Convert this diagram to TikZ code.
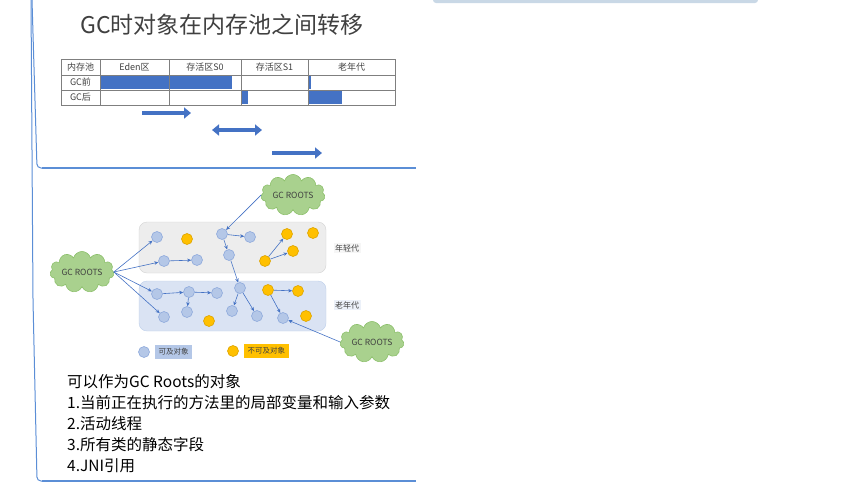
\documentclass[tikz,border=0pt]{standalone}
\usepackage{fontspec}
\usepackage{xcolor}
\usepackage{tikz}
\usetikzlibrary{shapes.geometric,shapes.symbols,arrows.meta,positioning}
\newfontfamily\cjk{Noto Sans CJK SC}
\definecolor{FrameBlue}{HTML}{5B8ED6}
\definecolor{CardEdge}{HTML}{C9D8E6}
\definecolor{BarBlue}{HTML}{4472C4}
\definecolor{TitleGray}{HTML}{404040}
\definecolor{GridGray}{HTML}{7F7F7F}
\definecolor{YoungFill}{HTML}{EDEDED}
\definecolor{YoungDraw}{HTML}{D3D3D3}
\definecolor{OldFill}{HTML}{DAE3F3}
\definecolor{OldDraw}{HTML}{BDCFEA}
\definecolor{ObjBlue}{HTML}{B4C7E7}
\definecolor{ObjBlueDraw}{HTML}{8FAADC}
\definecolor{ObjGold}{HTML}{FFC000}
\definecolor{ObjGoldDraw}{HTML}{DDA400}
\definecolor{CloudGreen}{HTML}{A9D18E}
\definecolor{CloudDraw}{HTML}{8DC06C}
\tikzset{
  % Card frame
  frame/.style={draw=FrameBlue,line width=1pt},
  % Table text
  TC/.style={font=\cjk\fontsize{9}{10}\selectfont,text=TitleGray,inner sep=0pt},
  % Thick transfer arrows
  bigarr/.style={-{Triangle[length=7pt,width=11pt]},draw=BarBlue,line width=4.5pt},
  dblarr/.style={{Triangle[length=7pt,width=11pt]}-{Triangle[length=7pt,width=11pt]},draw=BarBlue,line width=4.5pt},
  % Objects
  OB/.style={circle,minimum size=11pt,inner sep=0pt,line width=0.6pt},
  oB/.style={OB,fill=ObjBlue,draw=ObjBlueDraw},
  oG/.style={OB,fill=ObjGold,draw=ObjGoldDraw},
  % GC roots cloud
  gcroot/.style={cloud,cloud puffs=11,aspect=2,minimum width=64pt,minimum height=34pt,
                 fill=CloudGreen,draw=CloudDraw,line width=0.6pt,inner sep=0.5pt,
                 font=\cjk\fontsize{8.5}{10}\selectfont,text=TitleGray},
  % References
  arr/.style={-{Stealth[length=4pt,width=3.5pt]},draw=BarBlue,line width=0.6pt},
  % Labels
  genlbl/.style={font=\cjk\fontsize{8}{9}\selectfont,text=TitleGray,inner sep=1.5pt},
  lgbox/.style={font=\cjk\fontsize{7.5}{9}\selectfont,text=TitleGray,inner xsep=3.5pt,minimum height=13pt}
}
\begin{document}
\begin{tikzpicture}[x=1pt,y=-1pt]
  \useasboundingbox (0,0) rectangle (867,488);
  % card outlines
  \fill[CardEdge,rounded corners=3pt] (433,-6) rectangle (758,3);
  \draw[frame,rounded corners=4pt] (32,0) -- (37,168) -- (60,168);
  \draw[frame,line width=2.4pt] (42,168) -- (416,168);
  \draw[frame,rounded corners=4pt] (31,0) -- (33,300) -- (37,481) -- (60,481);
  \draw[frame,line width=2.4pt] (42,481) -- (416,481);

  % top card
  \node[font=\cjk\fontsize{23}{27}\selectfont,text=TitleGray] (title) at (222,25) {GC时对象在内存池之间转移};

  \fill[BarBlue] (100,76) rectangle (232,89);
  \fill[BarBlue] (308,76) rectangle (310.5,89);
  \fill[BarBlue] (241,91) rectangle (248,104);
  \fill[BarBlue] (308,91) rectangle (342,104);
  \draw[GridGray,line width=0.6pt] (61,59) rectangle (395,105);
  \draw[GridGray,line width=0.6pt] (61,75) -- (395,75) (61,90) -- (395,90);
  \draw[GridGray,line width=0.6pt] (100,59) -- (100,105) (169,59) -- (169,105)
                                   (241,59) -- (241,105) (308,59) -- (308,105);

  \node[TC] (pool) at (80.5,67)  {内存池};
  \node[TC] (eden) at (134.5,67) {Eden区};
  \node[TC] (sz)   at (205,67)   {存活区S0};
  \node[TC] (so)   at (274.5,67) {存活区S1};
  \node[TC] (old)  at (351.5,67) {老年代};
  \node[TC] (pre)  at (80.5,82.5) {GC前};
  \node[TC] (post) at (80.5,97.5) {GC后};

  \coordinate (a1) at (142,113);  \coordinate (b1) at (191,113);
  \coordinate (a2) at (212,130);  \coordinate (b2) at (262,130);
  \coordinate (a3) at (272,153);  \coordinate (b3) at (322,153);
  \draw[bigarr] (a1) -- (b1);
  \draw[dblarr] (a2) -- (b2);
  \draw[bigarr] (a3) -- (b3);

  % bottom card
  \draw[fill=YoungFill,draw=YoungDraw,rounded corners=8pt] (139,222) rectangle (326,273);
  \draw[fill=OldFill,draw=OldDraw,rounded corners=8pt] (139,281) rectangle (326,331);
  \node[genlbl,fill=YoungFill!50] (ylbl) at (347,248) {年轻代};
  \node[genlbl,fill=OldFill!50]   (olbl) at (347,305) {老年代};

  \node[gcroot] (lroot) at (82,272)  {GC ROOTS};
  \node[gcroot] (troot) at (293,195) {GC ROOTS};
  \node[gcroot] (broot) at (372,342) {GC ROOTS};

  % young generation
  \node[oB] (y1) at (157,237) {};
  \node[oG] (y2) at (187,239) {};
  \node[oB] (y3) at (164,261) {};
  \node[oB] (y4) at (197,260) {};
  \node[oB] (y5) at (222,234) {};
  \node[oB] (y6) at (250,237) {};
  \node[oB] (y7) at (229,255) {};
  \node[oG] (y8) at (287,234) {};
  \node[oG] (y9) at (313,233) {};
  \node[oG] (y10) at (293,251) {};
  \node[oG] (y11) at (265,261) {};
  % old generation
  \node[oB] (o1) at (157,294) {};
  \node[oB] (o2) at (189,292) {};
  \node[oB] (o3) at (217,293) {};
  \node[oB] (o4) at (240,288) {};
  \node[oG] (o5) at (268,290) {};
  \node[oG] (o6) at (298,291) {};
  \node[oB] (o7) at (164,317) {};
  \node[oB] (o8) at (187,312) {};
  \node[oG] (o9) at (209,321) {};
  \node[oB] (o10) at (232,311) {};
  \node[oB] (o11) at (257,316) {};
  \node[oB] (o12) at (283,318) {};
  \node[oG] (o13) at (306,316) {};

  \draw[arr] (lroot.east) -- (y1);
  \draw[arr] (lroot.east) -- (y3);
  \draw[arr] (lroot.east) -- (o1);
  \draw[arr] (lroot.east) -- (o7);
  \draw[arr] (y3) -- (y4);
  \draw[arr] (troot.west) -- (y5);
  \draw[arr] (y5) -- (y6);
  \draw[arr] (y5) -- (y7);
  \draw[arr] (y7) -- (o4);
  \draw[arr] (o4) -- (o10);
  \draw[arr] (o4) -- (o11);
  \draw[arr] (o1) -- (o2);
  \draw[arr] (o2) -- (o3);
  \draw[arr] (o2) -- (o8);
  \draw[arr] (y11) -- (y8);
  \draw[arr] (y11) -- (y10);
  \draw[arr] (o5) -- (o6);
  \draw[arr] (o5) -- (o12);
  \draw[arr] (broot.west) -- (o12);

  % legend
  \node[oB] (lgb) at (144,352) {};
  \node[lgbox,fill=ObjBlue,right=5pt of lgb] (lgbt) {可及对象};
  \node[oG] (lgg) at (233,351) {};
  \node[lgbox,fill=ObjGold,right=5pt of lgg] (lggt) {不可及对象};

  % notes
  \node[font=\cjk\fontsize{15.5}{21}\selectfont,align=left,anchor=north west,inner sep=0pt] (notes) at (67,374)
    {可以作为GC Roots的对象\\
     1.当前正在执行的方法里的局部变量和输入参数\\
     2.活动线程\\
     3.所有类的静态字段\\
     4.JNI引用};
\end{tikzpicture}
\end{document}
